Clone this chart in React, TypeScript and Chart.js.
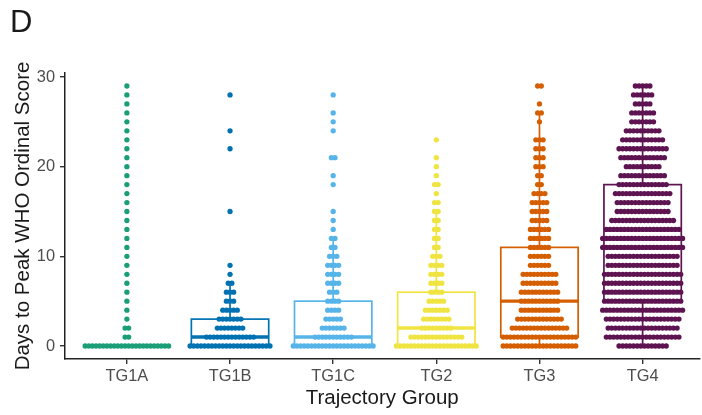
import React, { useEffect, useRef } from 'react';
import { Chart, registerables } from 'chart.js';

Chart.register(...registerables);

const FONT = '"Liberation Sans", Arial, Helvetica, sans-serif';

// Categories and palette
const groups = ['TG1A', 'TG1B', 'TG1C', 'TG2', 'TG3', 'TG4'];
const groupColors = ['#1B9E77', '#0072B2', '#56B4E9', '#F0E442', '#D55E00', '#5D1451'];

// Day values (y) that the count arrays are indexed by
const dayValues = [0, 1, 2, 3, 4, 5, 6, 7, 8, 9, 10, 11, 12, 13, 14, 15, 16, 17, 18, 19, 20, 21, 22, 23, 24, 25, 26, 27, 28, 29];

// Number of dots stacked at each day, per trajectory group
const tg1aCounts = [24, 2, 2, 1, 1, 1, 1, 1, 1, 1, 1, 1, 1, 1, 1, 1, 1, 1, 1, 1, 1, 1, 1, 1, 1, 1, 1, 1, 1, 1];
const tg1bCounts = [23, 14, 8, 7, 5, 3, 3, 2, 1, 1, 0, 0, 0, 0, 0, 1, 0, 0, 0, 0, 0, 0, 1, 0, 1, 0, 0, 0, 1, 0];
const tg1cCounts = [23, 11, 7, 5, 4, 4, 3, 4, 4, 4, 3, 2, 2, 1, 1, 1, 0, 0, 1, 1, 0, 2, 0, 0, 1, 1, 1, 0, 1, 0];
const tg2Counts = [23, 15, 9, 8, 7, 5, 4, 4, 4, 4, 3, 2, 2, 2, 2, 2, 2, 1, 2, 1, 1, 1, 0, 1, 0, 0, 0, 0, 0, 0];
const tg3Counts = [21, 21, 16, 13, 11, 11, 11, 10, 10, 6, 6, 6, 6, 6, 5, 5, 5, 4, 2, 2, 3, 3, 3, 3, 0, 1, 2, 1, 0, 2];
const tg4Counts = [14, 21, 20, 21, 23, 22, 22, 22, 22, 20, 20, 23, 23, 21, 18, 15, 15, 16, 14, 13, 10, 13, 14, 12, 10, 7, 7, 5, 6, 5];
const groupCounts = [tg1aCounts, tg1bCounts, tg1cCounts, tg2Counts, tg3Counts, tg4Counts];

// Box plot statistics
const boxQ1 = [0, 0, 0, 0, 1, 5];
const boxMedian = [0, 1, 1, 2, 5, 11];
const boxQ3 = [0, 3, 5, 6, 11, 18];
const whiskerLow = [0, 0, 0, 0, 0, 0];
const whiskerHigh = [0, 7, 12, 15, 26, 29];

const yTickValues = [0, 10, 20, 30];

// Style constants
const DOT_STEP = 0.0352; // horizontal spacing between stacked dots (category units)
const BOX_HALF = 0.375;

function buildDots(counts: number[], gi: number) {
  const pts: { x: number; y: number }[] = [];
  counts.forEach((n, d) => {
    for (let k = 0; k < n; k++) {
      pts.push({ x: gi + (k - (n - 1) / 2) * DOT_STEP, y: dayValues[d] });
    }
  });
  return pts;
}

const boxPlugin = {
  id: 'boxes',
  afterDatasetsDraw(chart: any) {
    const { ctx, scales } = chart;
    const x = scales.x;
    const y = scales.y;
    ctx.save();
    groups.forEach((_, i) => {
      const cx = x.getPixelForValue(i);
      const l = x.getPixelForValue(i - BOX_HALF);
      const r = x.getPixelForValue(i + BOX_HALF);
      const yq1 = y.getPixelForValue(boxQ1[i]);
      const yq3 = y.getPixelForValue(boxQ3[i]);
      const ymed = y.getPixelForValue(boxMedian[i]);
      const ylo = y.getPixelForValue(whiskerLow[i]);
      const yhi = y.getPixelForValue(whiskerHigh[i]);
      ctx.strokeStyle = groupColors[i];
      ctx.lineWidth = 1.7;
      ctx.lineCap = 'butt';
      ctx.beginPath();
      ctx.moveTo(cx, yq3);
      ctx.lineTo(cx, yhi);
      ctx.moveTo(cx, yq1);
      ctx.lineTo(cx, ylo);
      ctx.stroke();
      ctx.strokeRect(l, yq3, r - l, yq1 - yq3);
      ctx.lineWidth = 3.4;
      ctx.beginPath();
      ctx.moveTo(l, ymed);
      ctx.lineTo(r, ymed);
      ctx.stroke();
    });
    ctx.restore();
  },
};

const tagPlugin = {
  id: 'panelTag',
  afterDraw(chart: any) {
    const { ctx } = chart;
    ctx.save();
    ctx.font = `31px ${FONT}`;
    ctx.fillStyle = '#1a1a1a';
    ctx.textAlign = 'left';
    ctx.textBaseline = 'alphabetic';
    ctx.fillText('D', 10, 32);
    ctx.restore();
  },
};

export default function App() {
  const ref = useRef<HTMLCanvasElement | null>(null);

  useEffect(() => {
    if (!ref.current) return;
    const datasets = groups.map((g, i) => ({
      label: g,
      data: buildDots(groupCounts[i], i),
      backgroundColor: groupColors[i],
      borderWidth: 0,
      pointRadius: 2.65,
      pointHoverRadius: 2.65,
      pointBorderWidth: 0,
      showLine: false,
    }));

    const chart = new Chart(ref.current, {
      type: 'scatter',
      data: { datasets },
      options: {
        animation: false,
        responsive: false,
        devicePixelRatio: 1,
        events: [],
        layout: { padding: { top: 73, left: 0, right: 0, bottom: 0 } },
        plugins: {
          legend: { display: false },
          tooltip: { enabled: false },
        },
        scales: {
          x: {
            type: 'linear',
            min: -0.6,
            max: 5.55,
            afterBuildTicks: (s: any) => {
              s.ticks = groups.map((_, i) => ({ value: i }));
            },
            afterFit: (s: any) => {
              s.height = 56;
            },
            ticks: {
              callback: (v: any) => groups[Math.round(Number(v))] ?? '',
              font: { family: FONT, size: 16.4 },
              color: '#4D4D4D',
              padding: 3,
              maxRotation: 0,
              autoSkip: false,
            },
            grid: {
              display: true,
              drawOnChartArea: false,
              drawTicks: true,
              tickLength: 5,
              color: '#333333',
              lineWidth: 1.4,
            },
            border: { display: true, color: '#222222', width: 1.5 },
            title: {
              display: true,
              text: 'Trajectory Group',
              font: { family: FONT, size: 20.5 },
              color: '#1a1a1a',
              padding: { top: 0, bottom: 4 },
            },
          },
          y: {
            type: 'linear',
            min: -1.45,
            max: 30.45,
            afterBuildTicks: (s: any) => {
              s.ticks = yTickValues.map((v) => ({ value: v }));
            },
            afterFit: (s: any) => {
              s.width = 65;
            },
            ticks: {
              callback: (v: any) => String(v),
              font: { family: FONT, size: 16.4 },
              color: '#4D4D4D',
              padding: 5,
            },
            grid: {
              display: true,
              drawOnChartArea: false,
              drawTicks: true,
              tickLength: 5,
              color: '#333333',
              lineWidth: 1.4,
            },
            border: { display: true, color: '#222222', width: 1.5 },
            title: {
              display: true,
              text: 'Days to Peak WHO Ordinal Score',
              font: { family: FONT, size: 20.5 },
              color: '#1a1a1a',
              padding: { top: 11, bottom: 0 },
            },
          },
        },
      },
      plugins: [boxPlugin, tagPlugin],
    });
    return () => chart.destroy();
  }, []);

  return (
    <div style={{ position: 'absolute', left: 0, top: 0, width: 702, height: 415, background: '#ffffff' }}>
      <canvas ref={ref} width={702} height={415} style={{ display: 'block', width: 702, height: 415 }} />
    </div>
  );
}
